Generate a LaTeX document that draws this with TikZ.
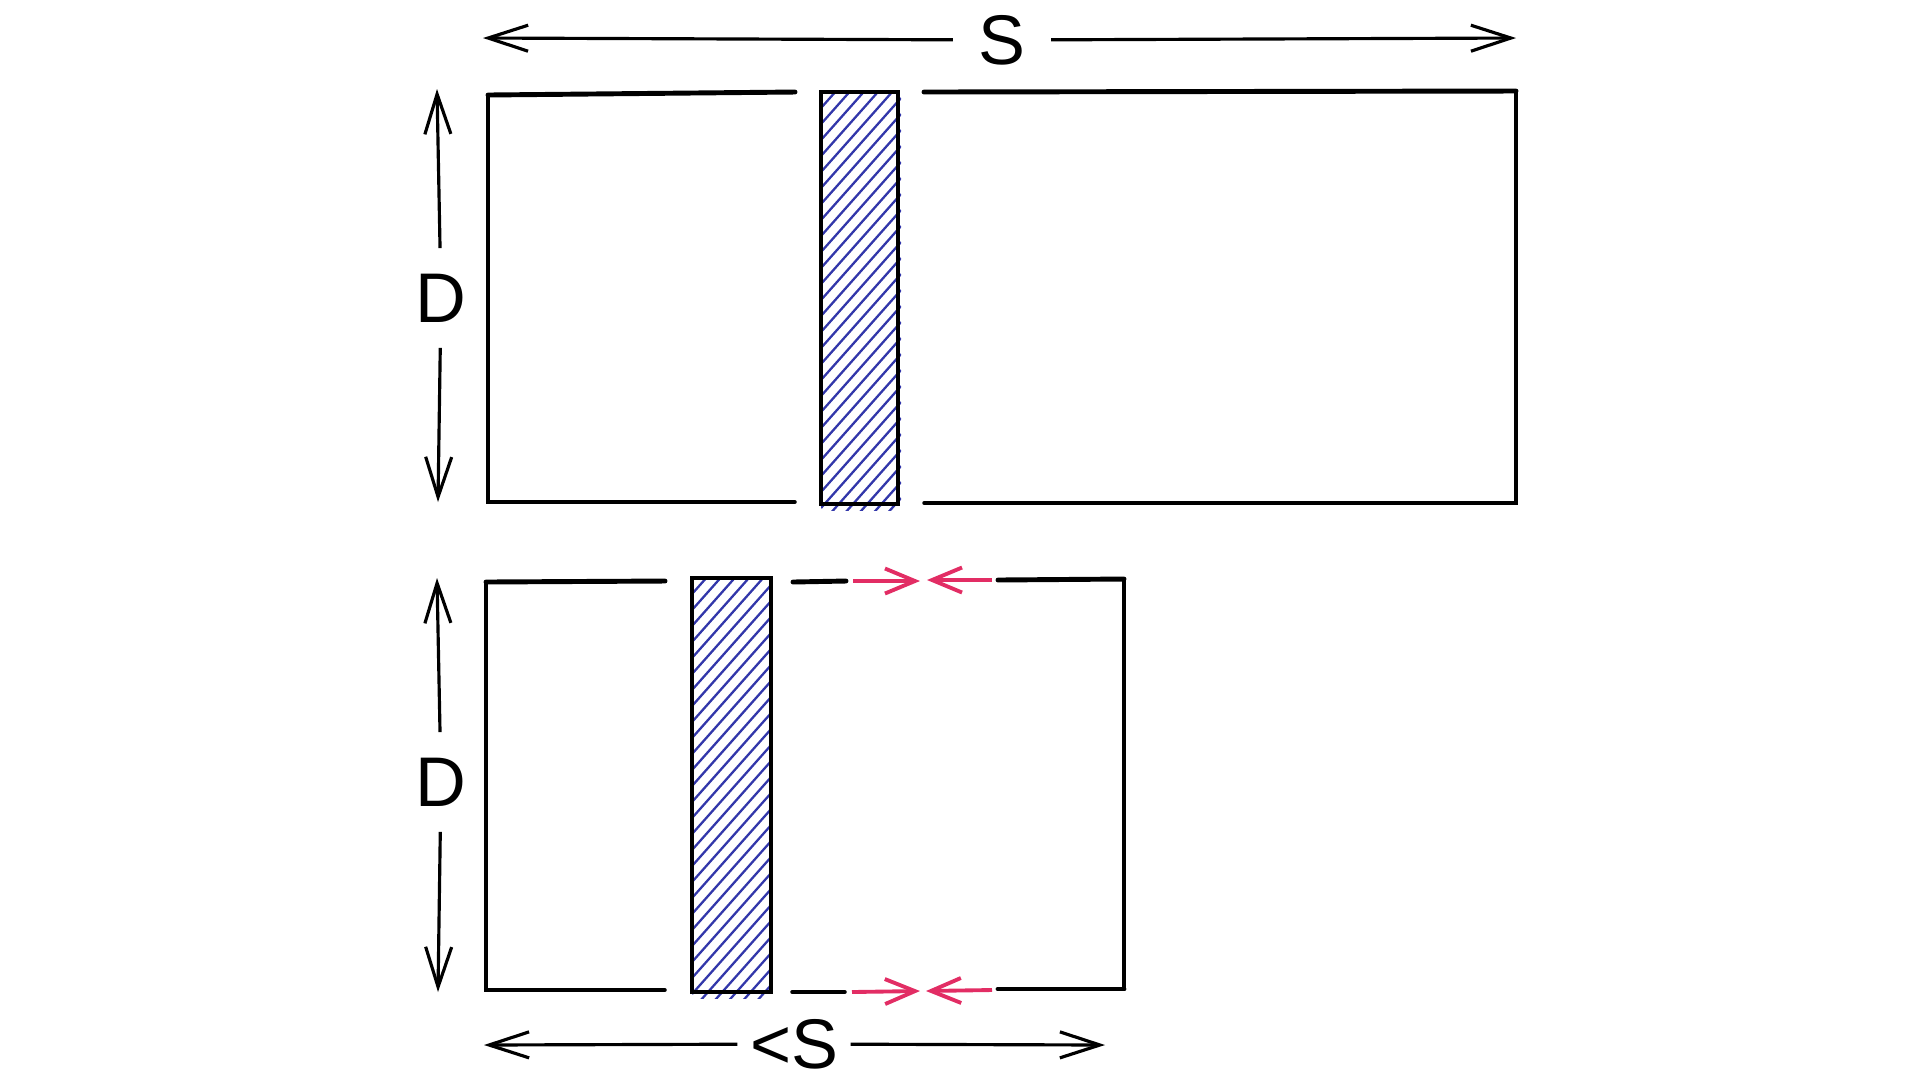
\documentclass[tikz,border=0pt]{standalone}
\usepackage{fontspec}
\setmainfont{Liberation Sans}
\usetikzlibrary{arrows.meta}

\definecolor{hatchblue}{RGB}{50,55,170}
\definecolor{squeezered}{RGB}{226,45,100}

\begin{document}
\begin{tikzpicture}[x=0.1mm, y=-0.1mm,
    edge/.style={line width=1pt, line cap=round},
    topedge/.style={line width=1.4pt, line cap=round},
    dim/.style={line width=0.9pt, -{Straight Barb[length=4mm,width=2.6mm]}},
    squeeze/.style={squeezered, line width=1.1pt, -{Straight Barb[length=3mm,width=2.5mm]}},
    hatch/.style={hatchblue, line width=0.65pt},
    lbl/.style={font=\fontsize{20}{24}\selectfont, inner sep=2.5mm}]
      \useasboundingbox (0,0) rectangle (1920,1080);

      % Upper box
      \draw[topedge] (488,95) -- (795,92);
      \draw[topedge] (924,92) -- (1516,91);
      \draw[edge] (488,95) -- (488,502) -- (795,502);
      \draw[edge] (924,503) -- (1516,503) -- (1516,91);

      % Upper bar
      \begin{scope}
        \clip (821,92) rectangle (901,510);
        \foreach \y in {92,108,...,620}
          \draw[hatch] (821,\y) -- ++(80,-90);
      \end{scope}
      \draw[line width=1.2pt] (821,92) rectangle (898,504);

      % Width S
      \node[lbl] (S) at (1002,40) {S};
      \coordinate (Sl) at (483,38);
      \coordinate (Sr) at (1516,38);
      \draw[dim] (S) -- (Sl);
      \draw[dim] (S) -- (Sr);

      % Depth D
      \node[lbl] (D) at (441,298) {D};
      \coordinate (Dt) at (437,89);
      \coordinate (Db) at (438,502);
      \draw[dim] (D) -- (Dt);
      \draw[dim] (D) -- (Db);

      % Lower box
      \draw[topedge] (486,582) -- (665,581);
      \draw[edge] (486,582) -- (486,990) -- (665,990);
      \draw[topedge] (793,582) -- (846,581);
      \draw[edge] (792,992) -- (845,992);
      \draw[topedge] (998,580) -- (1124,579);
      \draw[edge] (1124,579) -- (1124,989);
      \draw[topedge] (1124,989) -- (998,989);

      % Lower bar
      \begin{scope}
        \clip (692,578) rectangle (773,998);
        \foreach \y in {578,594,...,1100}
          \draw[hatch] (692,\y) -- ++(80,-90);
      \end{scope}
      \draw[line width=1.2pt] (692,578) rectangle (771,992);

      % Squeeze arrows
      \coordinate (qa) at (853,581);
      \coordinate (qb) at (920,581);
      \coordinate (qc) at (992,580);
      \coordinate (qd) at (927,580);
      \draw[squeeze] (qa) -- (qb);
      \draw[squeeze] (qc) -- (qd);
      \coordinate (qe) at (852,992);
      \coordinate (qf) at (920,991);
      \coordinate (qg) at (992,990);
      \coordinate (qh) at (926,991);
      \draw[squeeze] (qe) -- (qf);
      \draw[squeeze] (qg) -- (qh);

      % Depth D, lower
      \node[lbl] (D2) at (441,782) {D};
      \coordinate (D2t) at (437,578);
      \coordinate (D2b) at (438,992);
      \draw[dim] (D2) -- (D2t);
      \draw[dim] (D2) -- (D2b);

      % Width <S
      \node[lbl, inner xsep=1.2mm] (lS) at (794,1044) {<S};
      \coordinate (lSl) at (484,1045);
      \coordinate (lSr) at (1105,1045);
      \draw[dim] (lS) -- (lSl);
      \draw[dim] (lS) -- (lSr);
    \end{tikzpicture}
\end{document}
